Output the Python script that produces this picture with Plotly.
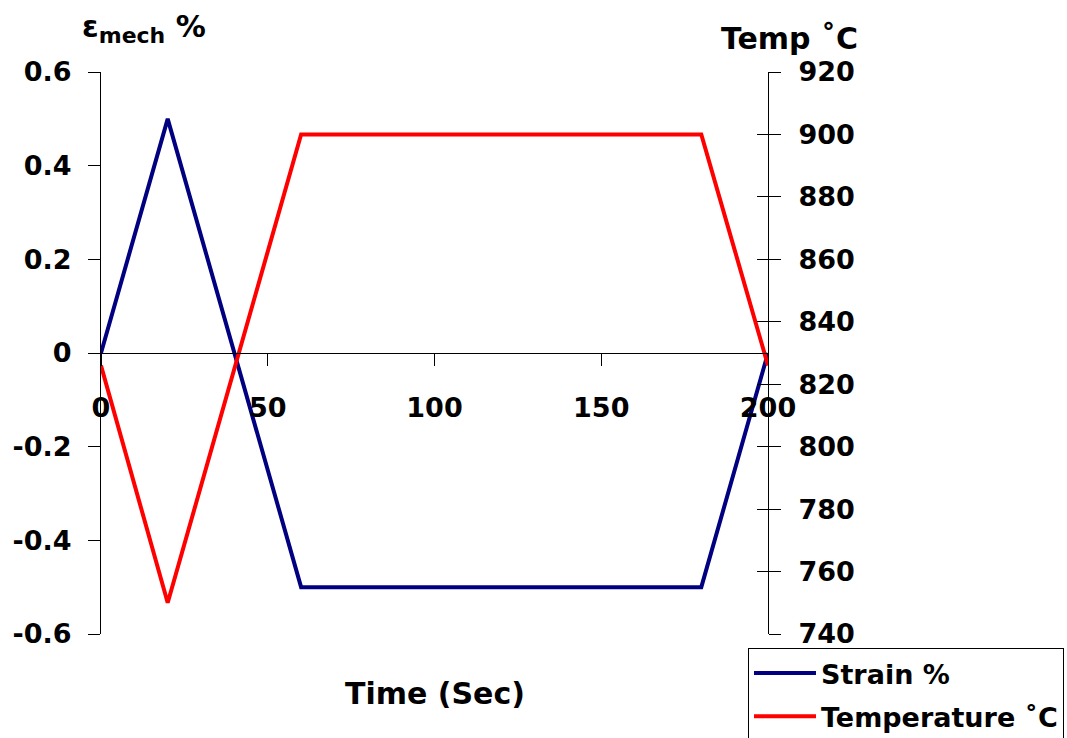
import plotly.graph_objects as go

# Thermo-mechanical fatigue cycle: strain and temperature against time
time_s = [0, 20, 60, 180, 200]
strain_pct = [0.0, 0.5, -0.5, -0.5, 0.0]
temp_c = [826, 750, 900, 900, 826]

strain_ticks = [-0.6, -0.4, -0.2, 0, 0.2, 0.4, 0.6]
strain_labels = ["-0.6", "-0.4", "-0.2", "0", "0.2", "0.4", "0.6"]
time_ticks = [0, 50, 100, 150, 200]
temp_ticks = [740, 760, 780, 800, 820, 840, 860, 880, 900, 920]

FONT = dict(family="DejaVu Sans", size=27, color="black", weight="bold")
TITLE_FONT = dict(family="DejaVu Sans", size=30, color="black", weight="bold")

fig = go.Figure()
fig.add_trace(go.Scatter(x=time_s, y=strain_pct, mode="lines", name="Strain %",
                         legendgroup="a",
                         line=dict(color="#000080", width=4), yaxis="y"))
fig.add_trace(go.Scatter(x=time_s, y=temp_c, mode="lines", name="Temperature \u02daC",
                         legendgroup="b",
                         line=dict(color="#ff0000", width=4), yaxis="y2"))
# invisible trace so the inner tick marks of the right axis get drawn
fig.add_trace(go.Scatter(x=[time_s[0]], y=[temp_c[0]], mode="lines", showlegend=False,
                         hoverinfo="skip", line=dict(width=0), yaxis="y3"))

fig.update_layout(
    width=1067, height=738,
    margin=dict(l=101, r=299, t=72, b=104, autoexpand=False),
    paper_bgcolor="white", plot_bgcolor="white",
    font=FONT,
    xaxis=dict(range=[0, 200], tickvals=time_ticks, ticks="outside", ticklen=12,
               tickcolor="black", showline=True, linecolor="black", linewidth=1,
               showgrid=False, zeroline=False, anchor="free", position=0.5,
               ticklabelstandoff=19, tickfont=FONT),
    yaxis=dict(range=[-0.6, 0.6], tickvals=strain_ticks, ticktext=strain_labels,
               ticks="outside", ticklen=12, tickcolor="black", showline=True,
               linecolor="black", linewidth=1, showgrid=False, zeroline=False,
               ticklabelstandoff=11, tickfont=FONT),
    yaxis2=dict(range=[740, 920], tickvals=temp_ticks, overlaying="y", side="right",
                ticks="outside", ticklen=12, tickcolor="black", showline=True,
                linecolor="black", linewidth=1, showgrid=False, zeroline=False,
                ticklabelstandoff=12, tickfont=FONT),
    yaxis3=dict(range=[740, 920], tickvals=temp_ticks, overlaying="y", side="right",
                ticks="inside", ticklen=11, tickcolor="black", showline=False,
                showticklabels=False, showgrid=False, zeroline=False),
    legend=dict(x=0.970, y=-0.025, xanchor="left", yanchor="top",
                bordercolor="black", borderwidth=1, bgcolor="white",
                font=FONT, itemwidth=62, tracegroupgap=5, traceorder="grouped"),
    showlegend=True,
    annotations=[
        dict(text="\u03b5<sub><span style='font-size:22px'>mech</span></sub> %",
             xref="paper", yref="paper",
             x=-0.032, y=1.0, xanchor="left", yanchor="bottom", yshift=22,
             showarrow=False, font=TITLE_FONT),
        dict(text="Temp \u02daC", xref="paper", yref="paper",
             x=1.0, y=1.0, xanchor="center", yanchor="bottom", yshift=14,
             xshift=21, showarrow=False, font=TITLE_FONT),
        dict(text="Time (Sec)", xref="paper", yref="paper",
             x=0.5, y=0, xanchor="center", yanchor="middle", yshift=-59,
             showarrow=False, font=TITLE_FONT),
    ],
)

fig.write_html("out.html")
